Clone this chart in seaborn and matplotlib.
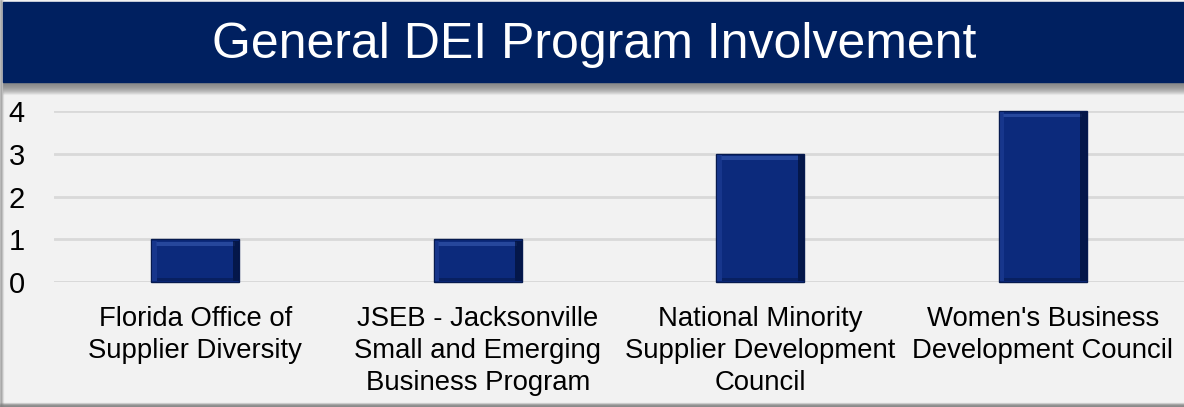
import matplotlib
matplotlib.use("Agg")
import matplotlib.pyplot as plt
import seaborn as sns
import pandas as pd
from matplotlib.patches import Rectangle

# ==================================
# DATA
# ==================================
PROGRAMS = [
    "Florida Office of\nSupplier Diversity",
    "JSEB - Jacksonville\nSmall and Emerging\nBusiness Program",
    "National Minority\nSupplier Development\nCouncil",
    "Women's Business\nDevelopment Council",
]
COUNTS = [1, 1, 3, 4]
Y_TICKS = [0, 1, 2, 3, 4]

TITLE = "General DEI Program Involvement"

NAVY = "#002060"
BAR = "#0c2a7c"
BG = "#f2f2f2"

sns.set_style("white")
plt.rcParams["font.family"] = ["Liberation Sans", "DejaVu Sans"]

W, H = 1184, 407
fig = plt.figure(figsize=(W / 100, H / 100), dpi=100)
fig.patch.set_facecolor(BG)

# ==================================
# FRAME / BANNER
# ==================================
# soft border on left and bottom
for i, a in enumerate([0.35, 0.2, 0.1]):
    fig.patches.append(Rectangle((i / W, 0), 1 / W, 1, transform=fig.transFigure,
                                 color="#808080", alpha=a, zorder=0))
for i, a in enumerate([0.6, 0.5, 0.35, 0.2]):
    fig.patches.append(Rectangle((0, i / H), 1, 1 / H, transform=fig.transFigure,
                                 color="#808080", alpha=a, zorder=0))

# shadow under banner
for i in range(12):
    fig.patches.append(Rectangle((3 / W, 1 - (83 + i) / H), 1, 1 / H,
                                 transform=fig.transFigure, color="#7f7f7f",
                                 alpha=0.55 * (1 - i / 12), zorder=1))

fig.patches.append(Rectangle((3 / W, 1 - 82 / H), 1, 80 / H,
                             transform=fig.transFigure, color=NAVY, zorder=2))
fig.text(594 / W, 1 - 45 / H, TITLE, ha="center", va="center",
         color="white", fontsize=36, zorder=3)

# ==================================
# BAR CHART
# ==================================
df = pd.DataFrame({"program": PROGRAMS, "count": COUNTS})

ax = fig.add_axes([54 / W, 1 - 282 / H, 1 - 54 / W, 171 / H])
ax.set_facecolor(BG)

sns.barplot(data=df, x="program", y="count", color=BAR, width=0.31,
            saturation=1, edgecolor="#061a4f", linewidth=1.0, ax=ax, zorder=3)

# bevel look on each bar
bars = list(ax.patches)
for p in bars:
    x, w, h = p.get_x(), p.get_width(), p.get_height()
    ax.add_patch(Rectangle((x + w * 0.05, h - 0.15), w * 0.9, 0.09,
                           color="#2f52a8", alpha=0.75, zorder=4, lw=0))
    ax.add_patch(Rectangle((x + w * 0.01, 0.03), w * 0.05, h - 0.06,
                           color="#1d3c93", alpha=0.7, zorder=4, lw=0))
    ax.add_patch(Rectangle((x + w * 0.93, 0.03), w * 0.07, h - 0.06,
                           color="#020f35", alpha=0.7, zorder=4, lw=0))
    ax.add_patch(Rectangle((x + w * 0.06, 0.03), w * 0.88, 0.06,
                           color="#061a4f", alpha=0.6, zorder=4, lw=0))

ax.set_ylim(0, 4)
ax.set_xlim(-0.5, 3.5)
ax.set_yticks(Y_TICKS)
ax.yaxis.grid(True, color="#d9d9d9", linewidth=2, zorder=0)
ax.set_axisbelow(True)
for s in ax.spines.values():
    s.set_visible(False)
ax.axhline(0, color="#d9d9d9", linewidth=2, zorder=2)

ax.set_xlabel("")
ax.set_ylabel("")
ax.tick_params(axis="y", length=0, pad=21, labelsize=21, labelcolor="black")
ax.tick_params(axis="x", length=0, pad=17, labelsize=19.8, labelcolor="black")
for lbl in ax.get_xticklabels():
    lbl.set_linespacing(1.32)
for p in ax.patches:
    p.set_clip_on(False)

fig.savefig("out.png", dpi=100, facecolor=BG)
